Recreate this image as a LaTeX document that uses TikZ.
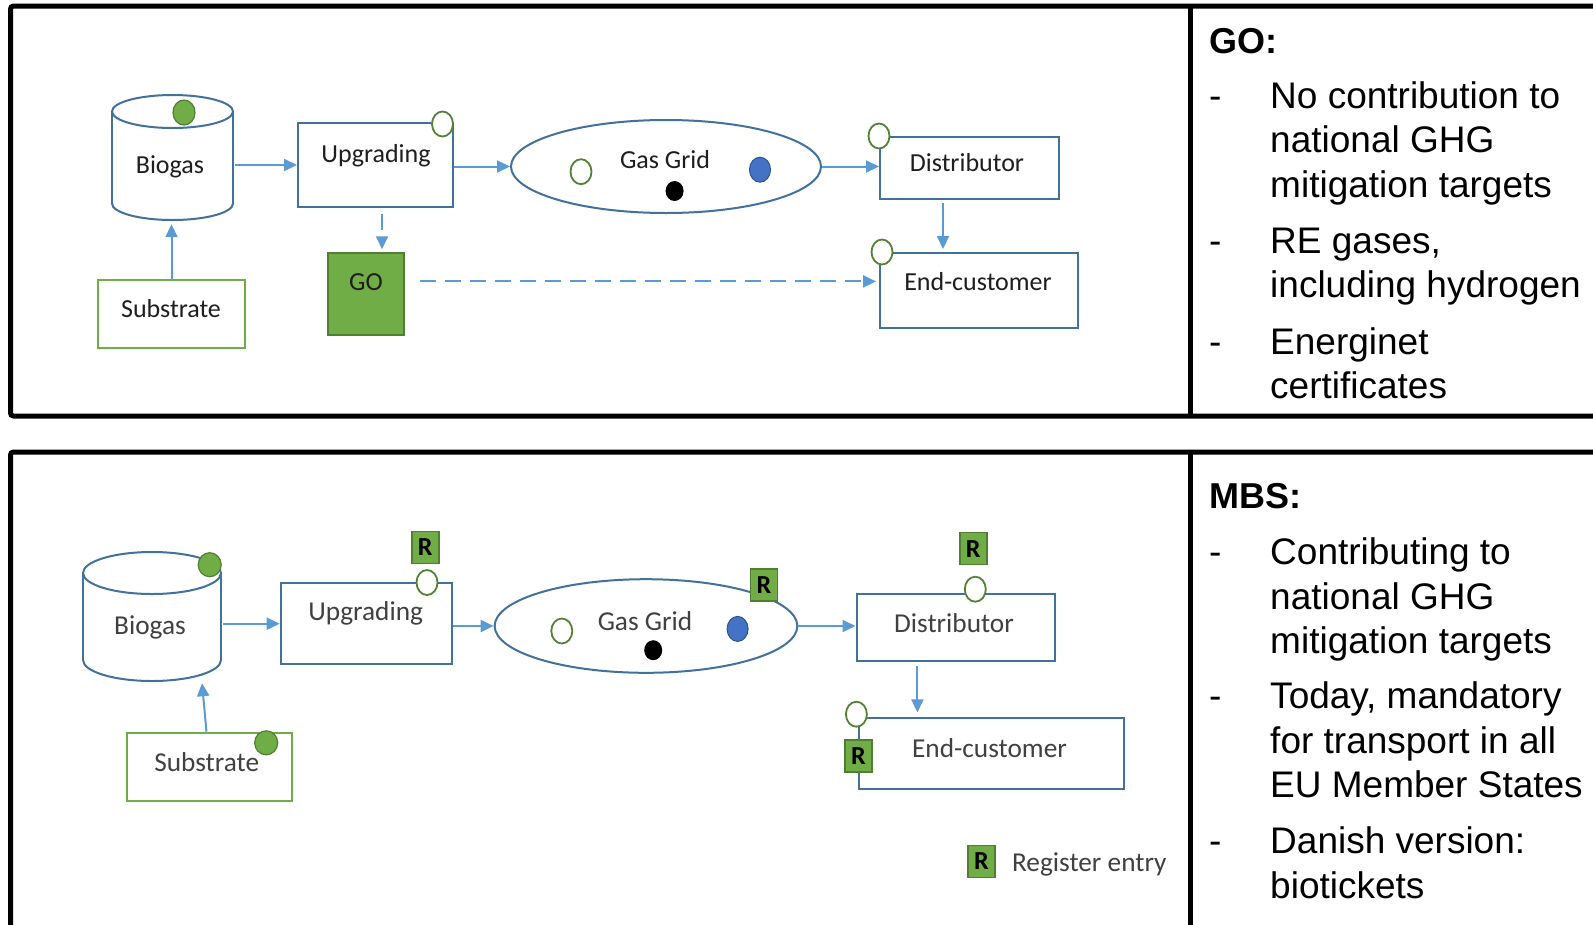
\documentclass[tikz,border=0pt]{standalone}
\usepackage{fontspec}
\setmainfont{Carlito}
\newfontfamily\arialf{Liberation Sans}
\usetikzlibrary{arrows.meta,shapes.geometric}
\definecolor{boxblue}{HTML}{41719C}
\definecolor{arrblue}{HTML}{5B9BD5}
\definecolor{lgreen}{HTML}{70AD47}
\definecolor{dgreen}{HTML}{548235}
\definecolor{ggreen}{HTML}{507E32}
\definecolor{dotblue}{HTML}{4472C4}
\definecolor{dotblueb}{HTML}{2F528F}
\definecolor{txt}{HTML}{1E1E1E}
\tikzset{
 frame/.style={line width=5pt, black, rounded corners=3pt},
 bbox/.style={draw=boxblue, line width=2pt, rectangle, inner sep=0pt, fill=white},
 gbox/.style={draw=lgreen, line width=2pt, rectangle, inner sep=0pt, fill=white},
 lbl/.style={inner sep=0pt, anchor=base, text=txt, font=\fontsize{26}{30}\selectfont},
 lbltwo/.style={inner sep=0pt, anchor=base, text=txt!85, font=\fontsize{27.3}{30}\selectfont},
 arr/.style={draw=arrblue, line width=2pt, -{Triangle[length=13pt,width=12pt]}},
 dsh/.style={dash pattern=on 16pt off 9pt},
 cylline/.style={draw=boxblue, line width=2pt},
 ocirc/.style={ellipse, draw=dgreen, line width=1.8pt, fill=white, inner sep=0pt, minimum width=21pt, minimum height=25pt},
 gdot/.style={ellipse, draw=ggreen, line width=1.2pt, fill=lgreen, inner sep=0pt, minimum width=22pt, minimum height=25pt},
 bdot/.style={ellipse, draw=dotblueb, line width=1pt, fill=dotblue, inner sep=0pt, minimum width=21pt, minimum height=25pt},
 kdot/.style={ellipse, fill=black, inner sep=0pt, minimum width=18pt, minimum height=20pt},
 rsq/.style={rectangle, draw=ggreen, line width=1.5pt, fill=lgreen, inner sep=0pt, minimum width=27pt, minimum height=32pt, font=\bfseries\fontsize{26}{26}\selectfont, text=black},
 rt/.style={inner sep=0pt, anchor=base west, font=\arialf\fontsize{37}{44}\selectfont},
 rth/.style={inner sep=0pt, anchor=base west, font=\arialf\bfseries\fontsize{36}{44}\selectfont},
}
\begin{document}
\begin{tikzpicture}[x=1pt,y=-1pt]
\useasboundingbox (0,0) rectangle (1593,924);
\clip (0,0) rectangle (1593,924);
\fill[white] (0,0) rectangle (1593,924);

% ---------- frames ----------
\draw[frame] (1600,6) -- (10.5,6) -- (10.5,416) -- (1600,416);
\draw[line width=5pt] (1190,6) -- (1190,416);
\draw[frame] (1600,452) -- (10.5,452) -- (10.5,935);
\draw[line width=5pt] (1190,452) -- (1190,935);

% ================= TOP PANEL =================
\node[inner sep=0pt, minimum width=121pt, minimum height=125pt] (bio) at (172.5,157.5) {};
\draw[cylline] (172.5,111.5) ellipse [x radius=60.5, y radius=16.5];
\draw[cylline] (112,111.5) -- (112,203.5);
\draw[cylline] (233,111.5) -- (233,203.5);
\begin{scope}
\clip (105,203.5) rectangle (240,225);
\draw[cylline] (172.5,203.5) ellipse [x radius=60.5, y radius=16.5];
\end{scope}
\node[lbl] (bioL) at (170,173) {Biogas};
\node[gdot] (bioD) at (184,112.5) {};

\node[bbox, minimum width=155pt, minimum height=84pt] (up) at (375.5,165) {};
\node[lbl] (upL) at (376,162) {Upgrading};
\node[ocirc] (upC) at (442.5,124) {};

\node[gbox, minimum width=147pt, minimum height=68pt] (sub) at (171.5,314) {};
\node[lbl] (subL) at (171,317) {Substrate};

\node[rectangle, draw=ggreen, line width=1.5pt, fill=lgreen, inner sep=0pt, minimum width=76pt, minimum height=82pt] (go) at (366,294) {};
\node[lbl] (goL) at (366,290) {GO};

\node[ellipse, draw=boxblue, line width=2pt, inner sep=0pt, minimum width=310pt, minimum height=93pt] (grid) at (666,166.5) {};
\node[lbl] (gridL) at (665,168) {Gas Grid};
\node[ocirc] (gridC) at (581,171.7) {};
\node[kdot] (gridK) at (674.6,191) {};
\node[bdot] (gridB) at (760,169.7) {};

\node[bbox, minimum width=178.6pt, minimum height=62pt] (dist) at (969.3,168) {};
\node[lbl] (distL) at (967,171) {Distributor};
\node[ocirc] (distC) at (879,136) {};

\node[bbox, minimum width=198pt, minimum height=75pt] (ec) at (979,290.5) {};
\node[lbl] (ecL) at (978,290) {End-customer};
\node[ocirc] (ecC) at (882,252) {};

\coordinate (gox) at (382,0);
\coordinate (dx) at (943,0);
\coordinate (dashy) at (0,281.4);
\draw[arr, shorten <=2pt] (bio.east |- up.west) -- (up.west);
\draw[arr, shorten >=4pt] (sub.north) -- (sub.north |- bio.south);
\draw[arr, dsh, shorten <=6pt, shorten >=3pt] (up.south -| gox) -- (go.north -| gox);
\draw[arr] (up.east |- grid.west) -- (grid.west);
\draw[arr] (grid.east) -- (grid.east -| dist.west);
\draw[arr, shorten <=3pt, shorten >=3pt] (dist.south -| dx) -- (ec.north -| dx);
\draw[arr, dsh, shorten <=15pt, shorten >=3pt] (go.east |- dashy) -- (ec.west |- dashy);

% ---------- top right text ----------
\node[rth] (goH) at (1209,53.5) {GO:};
\node[rt] (d1) at (1209,108) {-};
\node[rt] (t1a) at (1270,108) {No contribution to};
\node[rt] (t1b) at (1270,152.5) {national GHG};
\node[rt] (t1c) at (1270,197) {mitigation targets};
\node[rt] (d2) at (1209,253) {-};
\node[rt] (t2a) at (1270,253) {RE gases,};
\node[rt] (t2b) at (1270,297.5) {including hydrogen};
\node[rt] (d3) at (1209,354) {-};
\node[rt] (t3a) at (1270,354) {Energinet};
\node[rt] (t3b) at (1270,398.5) {certificates};

% ================= BOTTOM PANEL =================
\node[inner sep=0pt, minimum width=138pt, minimum height=129pt] (bio2) at (152,616.5) {};
\draw[cylline] (152,573) ellipse [x radius=69, y radius=21];
\draw[cylline] (83,573) -- (83,660);
\draw[cylline] (221,573) -- (221,660);
\begin{scope}
\clip (76,660) rectangle (228,686);
\draw[cylline] (152,660) ellipse [x radius=69, y radius=21];
\end{scope}
\node[lbltwo] (bio2L) at (150,634) {Biogas};
\node[gdot, minimum width=23pt, minimum height=24pt] (bio2D) at (209.7,564.7) {};

\node[bbox, minimum width=171pt, minimum height=80.7pt] (up2) at (366.2,623.7) {};
\node[lbltwo] (up2L) at (365.7,620) {Upgrading};
\node[ocirc] (up2C) at (427,582.5) {};
\node[rsq] (up2R) at (425.3,547.5) {R};

\node[gbox, minimum width=165.6pt, minimum height=68pt] (sub2) at (209.5,766.7) {};
\node[lbltwo] (sub2L) at (206.7,771.7) {Substrate};
\node[gdot, minimum width=23pt, minimum height=24pt] (sub2D) at (266.2,742.8) {};

\node[ellipse, draw=boxblue, line width=2pt, inner sep=0pt, minimum width=302.7pt, minimum height=93.6pt] (grid2) at (646,626) {};
\node[lbltwo] (grid2L) at (645,630) {Gas Grid};
\node[ocirc] (grid2C) at (561.8,631) {};
\node[kdot] (grid2K) at (653.2,650.2) {};
\node[bdot] (grid2B) at (737.6,628.9) {};
\node[rsq] (grid2R) at (764,585.2) {R};

\node[bbox, minimum width=198pt, minimum height=67pt] (dist2) at (955.5,627.9) {};
\node[lbltwo] (dist2L) at (954,632) {Distributor};
\node[ocirc] (dist2C) at (975.3,589.2) {};
\node[rsq] (dist2R) at (973.3,548.6) {R};

\node[bbox, minimum width=265pt, minimum height=71pt] (ec2) at (991,753.9) {};
\node[lbltwo] (ec2L) at (989.5,757) {End-customer};
\node[ocirc] (ec2C) at (856.4,714.2) {};
\node[rsq] (ec2R) at (858.5,755.9) {R};

\node[rsq] (legR) at (981.4,861.5) {R};
\node[lbltwo, anchor=base west] (legL) at (1011.9,871) {Register entry};

\coordinate (dx2) at (917.4,0);
\draw[arr, shorten <=2pt] (bio2.east |- up2.west) -- (up2.west);
\draw[arr] (up2.east |- grid2.west) -- (grid2.west);
\draw[arr] ([xshift=-3pt]sub2.north) -- ([xshift=50pt,yshift=-2pt]bio2.south);
\draw[arr] (grid2.east) -- (grid2.east -| dist2.west);
\draw[arr, shorten <=4pt, shorten >=5pt] (dist2.south -| dx2) -- (ec2.north -| dx2);

% ---------- bottom right text ----------
\node[rth] (mbsH) at (1209,508) {MBS:};
\node[rt] (e1) at (1209,564.5) {-};
\node[rt] (m1a) at (1270,564.5) {Contributing to};
\node[rt] (m1b) at (1270,609) {national GHG};
\node[rt] (m1c) at (1270,653.5) {mitigation targets};
\node[rt] (e2) at (1209,708.5) {-};
\node[rt] (m2a) at (1270,708.5) {Today, mandatory};
\node[rt] (m2b) at (1270,753) {for transport in all};
\node[rt] (m2c) at (1270,797.5) {EU Member States};
\node[rt] (e3) at (1209,853.5) {-};
\node[rt] (m3a) at (1270,853.5) {Danish version:};
\node[rt] (m3b) at (1270,898) {biotickets};
\end{tikzpicture}
\end{document}
